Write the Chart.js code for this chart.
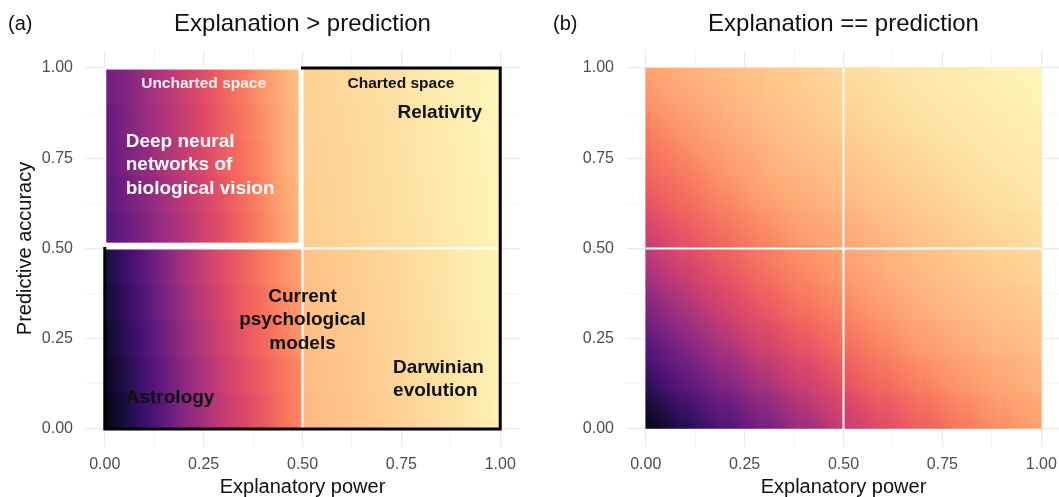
<!DOCTYPE html>
<html><head><meta charset="utf-8">
<script src="https://cdn.jsdelivr.net/npm/chart.js@4.4.1/dist/chart.umd.min.js"></script>
<style>
html,body{margin:0;padding:0;background:#fff;overflow:hidden;width:1059px;height:497px;}
#wa{position:absolute;left:0;top:0;width:530px;height:497px;}
#wb{position:absolute;left:530px;top:0;width:540px;height:497px;}
</style></head><body>
<div id="wa"><canvas id="ca" width="530" height="497"></canvas></div>
<div id="wb"><canvas id="cb" width="540" height="497"></canvas></div>
<script>
// ---------------- data ----------------
const tickValues = [0, 0.25, 0.5, 0.75, 1];
const tickLabels = ['0.00', '0.25', '0.50', '0.75', '1.00'];
const minorTickValues = [0.125, 0.375, 0.625, 0.875];
const axisTitleX = 'Explanatory power';
const axisTitleY = 'Predictive accuracy';
const panelTitles = ['Explanation > prediction', 'Explanation == prediction'];
const panelTags = ['(a)', '(b)'];

// Panel (a): fill value (position on the magma scale, 0-1) read along horizontal rows
const rowsLower = [0.05, 0.15, 0.25, 0.35, 0.45];
const rowsUpper = [0.55, 0.65, 0.75, 0.85, 0.95];
const stopsXLeft = [0, 0.05, 0.1, 0.15, 0.2, 0.25, 0.3, 0.35, 0.4, 0.45, 0.5];
const stopsXRight = [0.5, 0.55, 0.6, 0.65, 0.7, 0.75, 0.8, 0.85, 0.9, 0.95, 1];
const fillLowerLeft = [
  [0.03, 0.11, 0.20, 0.29, 0.38, 0.46, 0.53, 0.59, 0.64, 0.70, 0.75],
  [0.05, 0.13, 0.22, 0.31, 0.40, 0.48, 0.55, 0.61, 0.66, 0.71, 0.76],
  [0.07, 0.15, 0.24, 0.33, 0.42, 0.50, 0.57, 0.63, 0.68, 0.73, 0.78],
  [0.09, 0.17, 0.26, 0.35, 0.44, 0.52, 0.59, 0.65, 0.70, 0.75, 0.79],
  [0.11, 0.19, 0.28, 0.37, 0.46, 0.54, 0.61, 0.66, 0.72, 0.77, 0.81]
];
const fillLowerRight = [
  [0.850, 0.865, 0.875, 0.885, 0.895, 0.905, 0.920, 0.930, 0.945, 0.960, 0.975],
  [0.855, 0.870, 0.880, 0.890, 0.900, 0.910, 0.925, 0.935, 0.950, 0.962, 0.977],
  [0.860, 0.872, 0.882, 0.892, 0.903, 0.913, 0.927, 0.938, 0.952, 0.965, 0.978],
  [0.865, 0.876, 0.886, 0.896, 0.906, 0.916, 0.930, 0.940, 0.954, 0.967, 0.980],
  [0.870, 0.880, 0.890, 0.900, 0.910, 0.920, 0.933, 0.943, 0.956, 0.969, 0.981]
];
const fillUpperLeft = [
  [0.25, 0.31, 0.37, 0.43, 0.49, 0.56, 0.62, 0.68, 0.74, 0.80, 0.85],
  [0.27, 0.33, 0.39, 0.45, 0.51, 0.57, 0.63, 0.69, 0.75, 0.81, 0.86],
  [0.29, 0.35, 0.41, 0.47, 0.53, 0.59, 0.65, 0.70, 0.76, 0.82, 0.87],
  [0.30, 0.36, 0.42, 0.48, 0.54, 0.60, 0.66, 0.71, 0.77, 0.82, 0.87],
  [0.32, 0.37, 0.43, 0.49, 0.55, 0.61, 0.67, 0.72, 0.78, 0.83, 0.88]
];
const fillUpperRight = [
  [0.895, 0.902, 0.910, 0.918, 0.926, 0.934, 0.943, 0.952, 0.962, 0.972, 0.982],
  [0.897, 0.904, 0.912, 0.920, 0.928, 0.936, 0.945, 0.954, 0.964, 0.974, 0.983],
  [0.899, 0.906, 0.914, 0.922, 0.930, 0.938, 0.947, 0.956, 0.966, 0.975, 0.984],
  [0.901, 0.908, 0.916, 0.924, 0.932, 0.940, 0.949, 0.958, 0.967, 0.976, 0.985],
  [0.903, 0.910, 0.918, 0.926, 0.934, 0.942, 0.951, 0.960, 0.969, 0.978, 0.986]
];

// Panel (b): fill value read on an 11 x 11 grid of nodes (rows: y = 0 .. 1, columns: x = 0 .. 1)
const nodesB = [0, 0.1, 0.2, 0.3, 0.4, 0.5, 0.6, 0.7, 0.8, 0.9, 1];
const fillB = [
  [0.02, 0.14, 0.24, 0.33, 0.43, 0.53, 0.60, 0.65, 0.71, 0.76, 0.80],
  [0.14, 0.26, 0.35, 0.44, 0.53, 0.61, 0.67, 0.72, 0.77, 0.81, 0.83],
  [0.24, 0.35, 0.45, 0.54, 0.61, 0.67, 0.73, 0.78, 0.81, 0.84, 0.86],
  [0.33, 0.44, 0.54, 0.62, 0.68, 0.73, 0.78, 0.82, 0.85, 0.87, 0.88],
  [0.43, 0.53, 0.61, 0.68, 0.74, 0.78, 0.82, 0.85, 0.87, 0.89, 0.90],
  [0.53, 0.61, 0.67, 0.73, 0.78, 0.81, 0.84, 0.87, 0.89, 0.91, 0.92],
  [0.61, 0.67, 0.73, 0.78, 0.82, 0.84, 0.87, 0.89, 0.91, 0.93, 0.94],
  [0.67, 0.72, 0.78, 0.82, 0.85, 0.87, 0.89, 0.91, 0.93, 0.945, 0.955],
  [0.72, 0.77, 0.81, 0.85, 0.87, 0.89, 0.91, 0.93, 0.945, 0.955, 0.965],
  [0.77, 0.81, 0.84, 0.87, 0.89, 0.91, 0.93, 0.945, 0.955, 0.965, 0.975],
  [0.81, 0.84, 0.86, 0.88, 0.90, 0.92, 0.94, 0.955, 0.965, 0.975, 0.985]
];

// Region outlines (data units)
const chartedOutline = [[0, 0.5], [0, 0], [1, 0], [1, 1], [0.5, 1]];
const unchartedBox = {x0: 0, x1: 0.494, y0: 0.512, y1: 1};
const dividers = 0.5;

// Text annotations in panel (a)
const annotationsA = [
  {lines: ['Uncharted space'], x: 0.25, y: 0.945, align: 'center', color: 'rgba(255,255,255,0.93)', size: 15.5},
  {lines: ['Charted space'], x: 0.749, y: 0.945, align: 'center', color: '#111', size: 15.5},
  {lines: ['Relativity'], x: 0.954, y: 0.861, align: 'right', color: '#111', size: 19},
  {lines: ['Deep neural', 'networks of', 'biological vision'], x: 0.053, y: 0.781, align: 'left', color: '#fff', size: 19},
  {lines: ['Current', 'psychological', 'models'], x: 0.5, y: 0.352, align: 'center', color: '#111', size: 19},
  {lines: ['Darwinian', 'evolution'], x: 0.729, y: 0.155, align: 'left', color: '#111', size: 19},
  {lines: ['Astrology'], x: 0.053, y: 0.071, align: 'left', color: '#111', size: 19}
];

// ---------------- helpers ----------------
const FONT = '"Liberation Sans", Arial, Helvetica, sans-serif';
const magmaStops = ['#000004', '#140e36', '#3b0f70', '#641a80', '#8c2981', '#b73779',
  '#de4968', '#f7705c', '#fe9f6d', '#fecf92', '#fcfdbf'];
const magmaRGB = magmaStops.map(h => [1, 3, 5].map(i => parseInt(h.substr(i, 2), 16)));
function magma(t) {
  t = Math.max(0, Math.min(1, t));
  const p = t * (magmaRGB.length - 1);
  const i = Math.min(magmaRGB.length - 2, Math.floor(p));
  const f = p - i;
  const c = magmaRGB[i].map((v, k) => Math.round(v + (magmaRGB[i + 1][k] - v) * f));
  return `rgb(${c[0]},${c[1]},${c[2]})`;
}

function axisCfg(axis, width, withTitle, titleText) {
  const isX = axis === 'x';
  return {
    type: 'linear', min: -0.05, max: 1.05, offset: false,
    position: isX ? 'bottom' : 'left',
    afterBuildTicks: s => {
      s.ticks = tickValues.concat(minorTickValues).sort((a, b) => a - b).map(v => ({value: v}));
    },
    afterFit: s => { if (isX) s.height = 50; else s.width = width; },
    grid: {
      offset: false, drawTicks: false,
      color: c => (c.tick && minorTickValues.includes(c.tick.value)) ? '#f3f3f3' : '#ebebeb',
      lineWidth: c => (c.tick && minorTickValues.includes(c.tick.value)) ? 0.8 : 1.2
    },
    border: {display: false},
    ticks: {
      autoSkip: false, maxRotation: 0, minRotation: 0,
      padding: isX ? 8 : 12, color: '#4d4d4d',
      font: {family: FONT, size: 16},
      callback: v => { const i = tickValues.indexOf(v); return i >= 0 ? tickLabels[i] : ''; }
    },
    title: {
      display: withTitle, text: titleText, color: '#111',
      font: {family: FONT, size: 20, lineHeight: 1},
      padding: isX ? {top: 0, bottom: 0} : {top: 15, bottom: 0}
    }
  };
}

function headerPlugin(idx) {
  return {
    id: 'header' + idx,
    afterDraw(chart) {
      const ctx = chart.ctx, a = chart.chartArea;
      ctx.save();
      ctx.fillStyle = '#111';
      ctx.textBaseline = 'alphabetic';
      ctx.font = `24px ${FONT}`;
      ctx.textAlign = 'center';
      ctx.fillText(panelTitles[idx], (a.left + a.right) / 2, 31);
      ctx.font = `20px ${FONT}`;
      ctx.textAlign = 'left';
      ctx.fillText(panelTags[idx], idx === 0 ? 8 : 23, 30);
      ctx.restore();
    }
  };
}

// ---------------- panel (a) ----------------
const quadsA = [
  {rows: rowsLower, stopsX: stopsXLeft, fill: fillLowerLeft},
  {rows: rowsLower, stopsX: stopsXRight, fill: fillLowerRight},
  {rows: rowsUpper, stopsX: stopsXLeft, fill: fillUpperLeft},
  {rows: rowsUpper, stopsX: stopsXRight, fill: fillUpperRight}
];
function rowGradient(c, q) {
  const chart = c.chart;
  if (!chart.chartArea || c.type !== 'data') return 'rgba(0,0,0,0)';
  const xs = chart.scales.x;
  const s0 = q.stopsX[0], s1 = q.stopsX[q.stopsX.length - 1];
  const g = chart.ctx.createLinearGradient(xs.getPixelForValue(s0), 0, xs.getPixelForValue(s1), 0);
  const vals = q.fill[c.dataIndex];
  q.stopsX.forEach((sx, k) => g.addColorStop((sx - s0) / (s1 - s0), magma(vals[k])));
  return g;
}

const decorA = {
  id: 'decorA',
  afterDatasetsDraw(chart) {
    const ctx = chart.ctx, xs = chart.scales.x, ys = chart.scales.y;
    const px = v => xs.getPixelForValue(v), py = v => ys.getPixelForValue(v);
    ctx.save();
    // white dividers
    ctx.strokeStyle = '#fff'; ctx.lineWidth = 2;
    ctx.beginPath();
    ctx.moveTo(px(dividers), py(0)); ctx.lineTo(px(dividers), py(1));
    ctx.moveTo(px(0), py(dividers)); ctx.lineTo(px(1), py(dividers));
    ctx.stroke();
    // uncharted box white frame
    const b = unchartedBox;
    ctx.fillStyle = '#fff';
    ctx.fillRect(px(b.x0) - 1.5, py(b.y0), px(0.5) - px(b.x0) + 1.5, py(0.5) - py(b.y0));
    ctx.fillRect(px(b.x1), py(b.y1) - 1.5, px(0.5) - px(b.x1), py(0.5) - py(b.y1) + 1.5);
    ctx.lineWidth = 3;
    ctx.strokeRect(px(b.x0), py(b.y1), px(b.x1) - px(b.x0), py(b.y0) - py(b.y1));
    // charted outline
    ctx.strokeStyle = '#000'; ctx.lineWidth = 3; ctx.lineJoin = 'miter'; ctx.lineCap = 'square';
    ctx.beginPath();
    chartedOutline.forEach((p, i) => i ? ctx.lineTo(px(p[0]), py(p[1])) : ctx.moveTo(px(p[0]), py(p[1])));
    ctx.stroke();
    // labels
    ctx.textBaseline = 'alphabetic';
    annotationsA.forEach(an => {
      ctx.font = `bold ${an.size}px ${FONT}`;
      ctx.fillStyle = an.color;
      ctx.textAlign = an.align;
      an.lines.forEach((ln, i) => ctx.fillText(ln, px(an.x), py(an.y) + i * 23.3));
    });
    ctx.restore();
  }
};

new Chart(document.getElementById('ca'), {
  type: 'bar',
  data: {
    datasets: quadsA.map(q => ({
      data: q.rows.map(y => ({y: y, x: [q.stopsX[0], q.stopsX[q.stopsX.length - 1]]})),
      backgroundColor: c => rowGradient(c, q),
      borderWidth: 0, grouped: false, barPercentage: 1, categoryPercentage: 1
    }))
  },
  options: {
    indexAxis: 'y', responsive: false, animation: false, events: [],
    layout: {padding: {top: 50, right: 10, bottom: 0, left: 0}},
    plugins: {legend: {display: false}, tooltip: {enabled: false}},
    scales: {x: axisCfg('x', 0, true, axisTitleX), y: axisCfg('y', 85, true, axisTitleY)}
  },
  plugins: [decorA, headerPlugin(0)]
});

// ---------------- panel (b) ----------------
function cellGradient(c) {
  const chart = c.chart;
  if (!chart.chartArea || c.type !== 'data') return 'rgba(0,0,0,0)';
  const xs = chart.scales.x, ys = chart.scales.y;
  const j = c.datasetIndex, i = c.dataIndex;
  const g = chart.ctx.createLinearGradient(
    xs.getPixelForValue(nodesB[i]), ys.getPixelForValue(nodesB[j]),
    xs.getPixelForValue(nodesB[i + 1]), ys.getPixelForValue(nodesB[j + 1]));
  g.addColorStop(0, magma(fillB[j][i]));
  g.addColorStop(0.5, magma((fillB[j][i + 1] + fillB[j + 1][i]) / 2));
  g.addColorStop(1, magma(fillB[j + 1][i + 1]));
  return g;
}
const decorB = {
  id: 'decorB',
  afterDatasetsDraw(chart) {
    const ctx = chart.ctx, xs = chart.scales.x, ys = chart.scales.y;
    const px = v => xs.getPixelForValue(v), py = v => ys.getPixelForValue(v);
    ctx.save();
    ctx.strokeStyle = '#fff'; ctx.lineWidth = 2;
    ctx.beginPath();
    ctx.moveTo(px(dividers), py(0)); ctx.lineTo(px(dividers), py(1));
    ctx.moveTo(px(0), py(dividers)); ctx.lineTo(px(1), py(dividers));
    ctx.stroke();
    ctx.restore();
  }
};
new Chart(document.getElementById('cb'), {
  type: 'bar',
  data: {
    datasets: nodesB.slice(0, -1).map((y0, j) => ({
      data: nodesB.slice(0, -1).map((x0, i) => ({x: (x0 + nodesB[i + 1]) / 2, y: [y0, nodesB[j + 1]]})),
      backgroundColor: cellGradient,
      borderWidth: 0, grouped: false, barPercentage: 1, categoryPercentage: 1
    }))
  },
  options: {
    responsive: false, animation: false, events: [],
    layout: {padding: {top: 50, right: 9, bottom: 0, left: 0}},
    plugins: {legend: {display: false}, tooltip: {enabled: false}},
    scales: {x: axisCfg('x', 0, true, axisTitleX), y: axisCfg('y', 96, false, '')}
  },
  plugins: [decorB, headerPlugin(1)]
});
</script>
</body></html>
